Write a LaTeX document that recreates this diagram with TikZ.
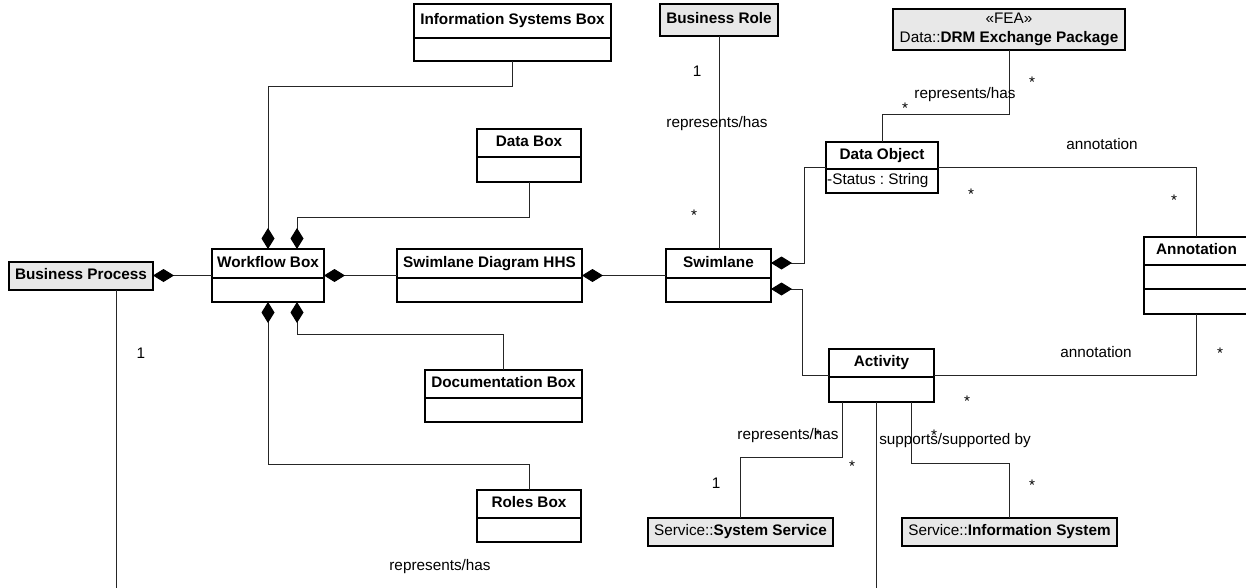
\documentclass[tikz,border=0pt]{standalone}
\usepackage{fontspec}
\setmainfont{Liberation Sans}
\usetikzlibrary{arrows.meta,calc}
\frenchspacing
\definecolor{boxgray}{RGB}{232,232,232}
\tikzset{
  cbox/.style={draw=black, line width=1.3pt, inner sep=0pt, outer sep=0pt},
  ttl/.style={font=\fontsize{15.3}{18}\selectfont\bfseries, inner sep=0pt, text height=11pt, text depth=3.5pt},
  lbl/.style={font=\fontsize{15.3}{18}\selectfont, inner sep=0pt, text height=11pt, text depth=3.5pt},
  conn/.style={draw=black!85, line width=1pt},
  comp/.style={conn, -{Diamond[length=21pt,width=13pt,color=black]}},
}
% #1 name #2 x1 #3 y1 #4 x2 #5 ydiv #6 y2 #7 title
\newcommand\umlcls[7]{%
  \node[cbox, fill=white, minimum width={#4-#2}, minimum height={#6-#3}, anchor=north west] (#1) at (#2,#3) {};
  \node[ttl] (#1-t) at ({(#2+#4)/2},{(#3+#5)/2}) {#7};
  \draw[draw=black, line width=1.3pt] (#1.west |- 0,#5) -- (#1.east |- 0,#5);
}
% #1 name #2 x1 #3 y1 #4 x2 #5 y2 #6 title
\newcommand\umlone[6]{%
  \node[cbox, fill=boxgray, minimum width={#4-#2}, minimum height={#5-#3}, anchor=north west] (#1) at (#2,#3) {};
  \node[ttl] (#1-t) at ({(#2+#4)/2},{(#3+#5)/2}) {#6};
}
\begin{document}
\begin{tikzpicture}[x=1pt, y=-1pt]
\useasboundingbox (0,0) rectangle (1246,588);
\clip (0,0) rectangle (1246,588);
\fill[white] (0,0) rectangle (1246,588);

% classes
\umlcls{wf}{212}{249}{324}{278}{302}{Workflow Box}
\umlcls{sd}{397}{249}{582}{278}{302}{Swimlane Diagram HHS}
\umlcls{sw}{666}{249}{771}{278}{302}{Swimlane}
\umlcls{isb}{414}{4}{611}{38}{61}{Information Systems Box}
\umlcls{db}{477}{129}{581}{157}{182}{Data Box}
\umlcls{doc}{425}{370}{582}{398}{422}{Documentation Box}
\umlcls{rb}{477}{490}{581}{518}{542}{Roles Box}
\umlcls{do}{826}{142}{938}{169}{193}{Data Object}
\node[lbl, anchor=west] (do-a) at (827,181) {-Status : String};
\umlcls{act}{829}{349}{934}{377}{402}{Activity}
\umlcls{ann}{1144}{237}{1249}{265}{314}{Annotation}
\draw[draw=black, line width=1.3pt] (ann.west |- 0,289) -- (ann.east |- 0,289);

\umlone{bp}{9}{262}{153}{290}{Business Process}
\umlone{br}{660}{4}{778}{36}{Business Role}
\umlone{ss}{648}{518}{833}{546}{\mdseries Service::\bfseries System Service}
\umlone{ins}{902}{518}{1117}{546}{\mdseries Service::\bfseries Information System}
\node[cbox, fill=boxgray, minimum width=232, minimum height=41, anchor=north west] (drm) at (893,9) {};
\node[lbl] (drm-s) at (1009,20) {«FEA»};
\node[lbl] (drm-t) at (1009,39) {Data::\textbf{DRM Exchange Package}};

% connectors
\draw[comp] (wf.west) -- (wf.west -| bp.east);
\draw[comp] (sd.west) -- (wf.east);
\draw[comp] (sw.west) -- (sd.east);
\draw[comp] (isb.south) -- ++(0,26) -| (wf.north);
\draw[comp] (db.south) -- ++(0,35) -| ($(wf.north)+(29,0)$);
\draw[comp] (doc.north) -- ++(0,-36) -| ($(wf.south)+(29,0)$);
\draw[comp] (rb.north) -- ++(0,-26) -| (wf.south);
\draw[conn] (br.south) -- (br.south |- sw.north);
\draw[comp] (do.west) -- ++(-22,0) |- ($(sw.east)+(0,-12.5)$);
\draw[comp] (act.west) -- ++(-27,0) |- ($(sw.east)+(0,13.5)$);
\draw[conn] (do.north) -- ++(0,-27) -| (drm.south);
\draw[conn] (do.east) -| (ann.north);
\draw[conn] (act.east) -| (ann.south);
\draw[conn] ($(act.south)+(-39.5,0)$) -- ++(0,55) -| (ss.north);
\draw[conn] ($(act.south)+(29.5,0)$) -- ++(0,61) -| (ins.north);
\draw[conn] ($(bp.south)+(35,0)$) -- ++(0,330) -| ($(act.south)+(-5.5,0)$);

% labels
\node[lbl] (l1) at (697,73) {1};
\node[lbl] (l2) at (717,124) {represents/has};
\node[lbl] (l3) at (694,217) {*};
\node[lbl] (l4) at (905,110) {*};
\node[lbl] (l5) at (965,95) {represents/has};
\node[lbl] (l6) at (1032,84) {*};
\node[lbl] (l7) at (1102,146) {annotation};
\node[lbl] (l8) at (971,196) {*};
\node[lbl] (l9) at (1174,202) {*};
\node[lbl] (l10) at (1096,354) {annotation};
\node[lbl] (l11) at (1220,355) {*};
\node[lbl] (l12) at (967,403) {*};
\node[lbl] (l13) at (788,436) {represents/has};
\node[lbl] (l14) at (818,437) {*};
\node[lbl] (l15) at (852,468) {*};
\node[lbl] (l16) at (716,485) {1};
\node[lbl] (l17) at (955,441) {supports/supported by};
\node[lbl] (l18) at (934,437) {*};
\node[lbl] (l19) at (1032,487) {*};
\node[lbl] (l20) at (141,355) {1};
\node[lbl] (l21) at (440,567) {represents/has};
\end{tikzpicture}
\end{document}
